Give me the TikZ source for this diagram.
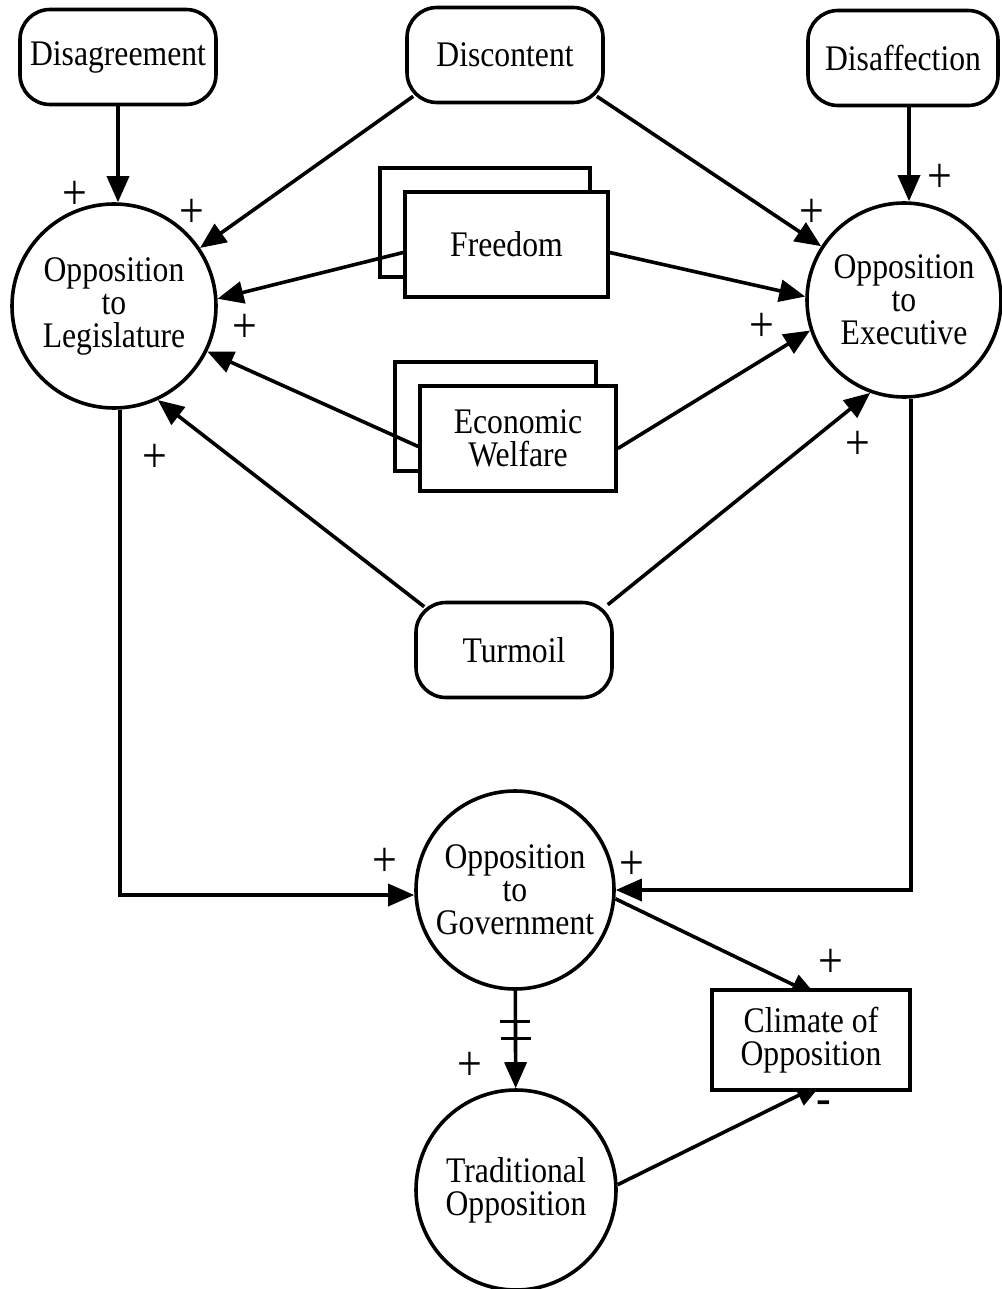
\documentclass[tikz,border=0pt]{standalone}
\usepackage{fontspec}
\setmainfont{Liberation Serif}[FakeStretch=0.88]
\usetikzlibrary{arrows.meta,calc}
\pgfdeclarelayer{bg}
\pgfsetlayers{bg,main}

\begin{document}
\begin{tikzpicture}[x=1pt,y=-1pt,
  every node/.style={font=\fontsize{36}{33}\selectfont, align=center, inner sep=0pt},
  lw/.style={line width=3.6pt},
  rbox/.style={lw, draw, fill=white, rounded corners=30pt, minimum width=196pt, minimum height=95pt},
  sbox/.style={lw, draw, fill=white, minimum height=105pt},
  circ/.style={lw, draw, fill=white, circle},
  arr/.style={lw, -{Triangle[length=26pt,width=22pt]}},
  sign/.style={font=\fontsize{50}{50}\selectfont}
]
\useasboundingbox (0,0) rectangle (1001,1289);

% sources
\node[rbox] (dis) at (118,57) {Disagreement};
\node[rbox] (disc) at (505,55) {Discontent};
\node[rbox, minimum width=190pt] (disf) at (903,58) {Disaffection};

% opposition to the two branches
\node[circ, minimum size=204pt] (ol) at (114,306) {Opposition\\to\\Legislature};
\node[circ, minimum size=194pt] (oe) at (904,300) {Opposition\\to\\Executive};

% stacked boxes
\node[sbox, minimum width=203pt] (fr) at (506.5,244.5) {Freedom};
\node[sbox, minimum width=196pt] (ew) at (518,438.5) {Economic\\Welfare};

\node[rbox] (tu) at (514,650) {Turmoil};

% lower part
\node[circ, minimum size=198pt] (og) at (515,890) {Opposition\\to\\Government};
\node[sbox, minimum width=198pt, minimum height=100pt] (cl) at (811,1040) {Climate of\\Opposition};
\node[circ, minimum size=200pt] (to) at (516,1190) {Traditional\\Opposition};

% signs
\node[sign] (s1) at (75,195) {+};
\node[sign] (s2) at (192,213) {+};
\node[sign] (s3) at (245,328) {+};
\node[sign] (s4) at (155,458) {+};
\node[sign] (s5) at (940,178) {+};
\node[sign] (s6) at (812,213) {+};
\node[sign] (s7) at (762,327) {+};
\node[sign] (s8) at (858,445) {+};
\node[sign] (s9) at (385,862) {+};
\node[sign] (s10) at (632,865) {+};
\node[sign] (s11) at (831,963) {+};
\node[sign] (s12) at (470,1066) {+};
\node[sign] (s13) at (824,1108) {-};

\begin{pgfonlayer}{bg}
  % back sheets of the stacked boxes
  \draw[lw, fill=white] ([shift={(-23,-22)}]fr.south west) rectangle ([shift={(-20,-22)}]fr.north east);
  \draw[lw, fill=white] ([shift={(-23,-22)}]ew.south west) rectangle ([shift={(-22,-22)}]ew.north east);

  % connectors
  \draw[arr] (dis.south) -- (dis.south |- ol.north);
  \draw[arr] ([shift={(6,0)}]disf.south) -- ([shift={(6,0)}]disf.south |- oe.north);
  \draw[arr] ([shift={(8,-8)}]disc.south west) -- (ol.34);
  \draw[arr] ([shift={(-8,-8)}]disc.south east) -- (oe.147);
  \draw[arr] ([shift={(0,8)}]fr.west) -- (ol.4);
  \draw[arr] ([shift={(0,8)}]fr.east) -- (oe.178);
  \draw[arr] ([shift={(0,8)}]ew.west) -- (ol.-26);
  \draw[arr] ([shift={(0,10)}]ew.east) -- (oe.198);
  \draw[arr] ([shift={(10,6)}]tu.north west) -- (ol.-65);
  \draw[arr] ([shift={(-6,4)}]tu.north east) -- (oe.250);

  \draw[arr] ([shift={(6,0)}]ol.south) |- ([shift={(0,5)}]og.west);
  \draw[arr] ([shift={(7,0)}]oe.south) |- (og.east);

  \draw[arr] (og.-5) -- ([shift={(6,8)}]cl.north);
  \draw[arr] (to.3) -- ([shift={(11,-8)}]cl.south);

  \draw[arr] (og) -- coordinate[pos=0.32] (t1) coordinate[pos=0.49] (t2) (to);
  \draw[line width=3pt] ([shift={(-15,0)}]t1) -- ([shift={(15,0)}]t1);
  \draw[line width=3pt] ([shift={(-15,0)}]t2) -- ([shift={(15,0)}]t2);
\end{pgfonlayer}
\end{tikzpicture}
\end{document}
